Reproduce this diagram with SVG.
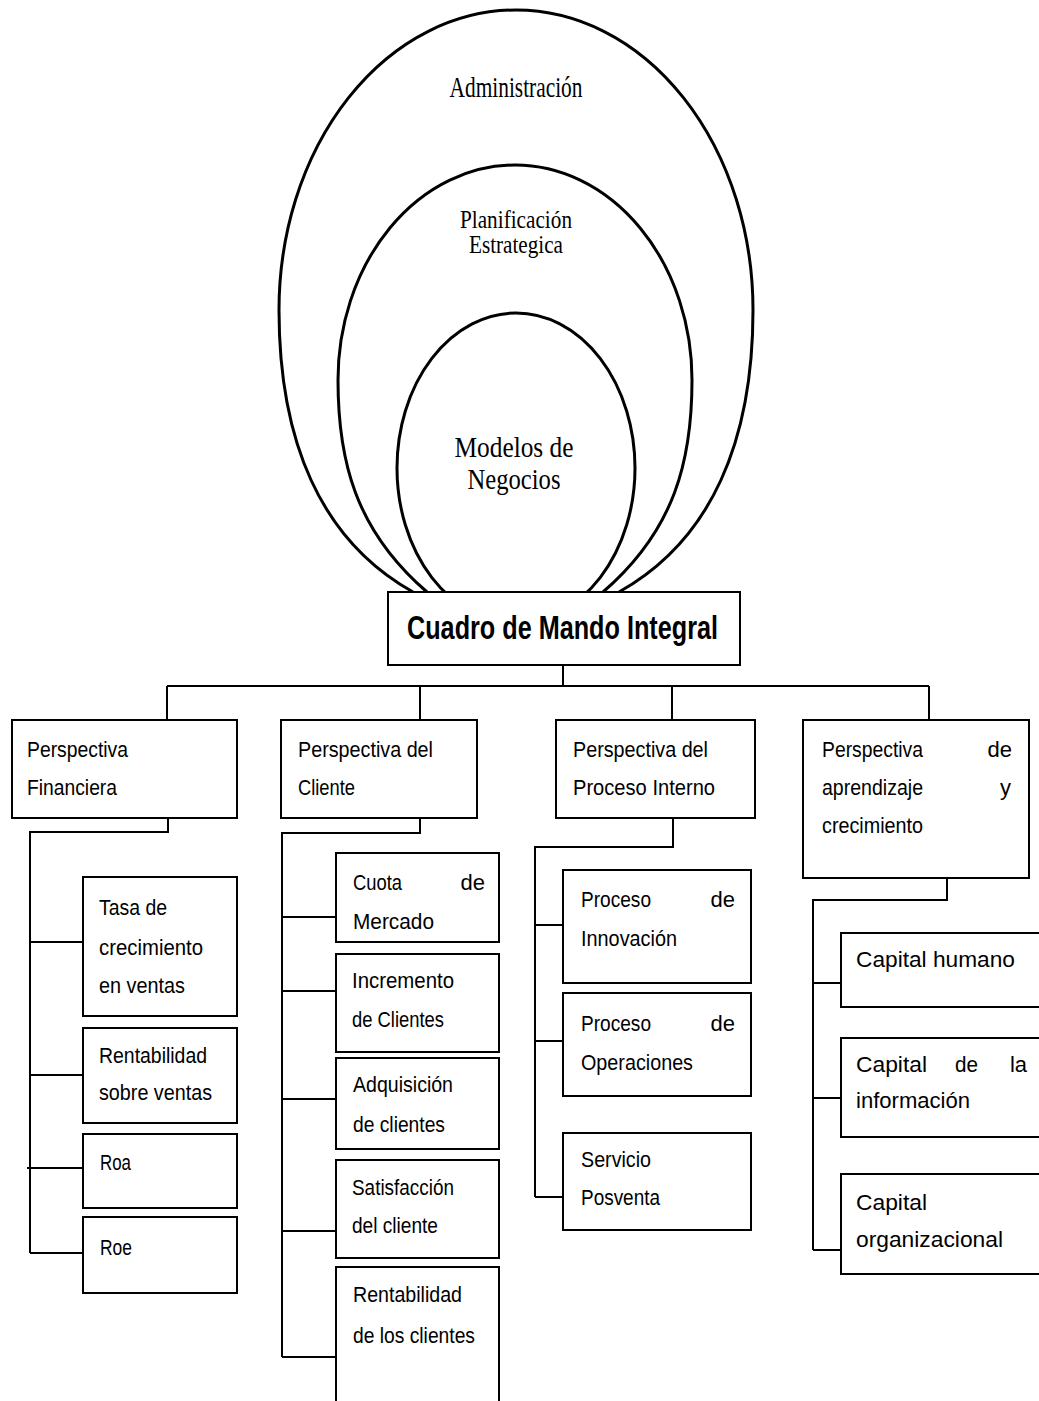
<svg xmlns="http://www.w3.org/2000/svg" width="1039" height="1401" viewBox="0 0 1039 1401">
<style>
.bg{fill:#fff}
.ring{fill:none;stroke:#000;stroke-width:3}
.box{fill:#fff;stroke:#000;stroke-width:2}
.conn{fill:none;stroke:#000;stroke-width:2}
.t{font-family:"Liberation Sans",Arial,sans-serif;font-size:22px;fill:#000}
.s{font-family:"Liberation Serif","Times New Roman",serif;fill:#000;text-anchor:middle}
.title{font-family:"Liberation Sans",Arial,sans-serif;font-size:33px;font-weight:bold;fill:#000}
</style>
<rect class="bg" x="0" y="0" width="1039" height="1401"/>

<g id="administracion">
<path class="ring" d="M 413 592 C 320 540 279 440 279 310 A 237 300 0 0 1 753 310 C 753 440 712 540 619 592"/>
<text class="s" x="516" y="97" font-size="29" textLength="133" lengthAdjust="spacingAndGlyphs">Administración</text>
</g>
<g id="planificacion">
<path class="ring" d="M 427 592 C 355 530 338 460 338 380 A 177 215 0 0 1 692 380 C 692 460 675 530 603 592"/>
<text class="s" x="516" y="228" font-size="25" textLength="112" lengthAdjust="spacingAndGlyphs">Planificación</text>
<text class="s" x="516" y="253" font-size="25" textLength="94" lengthAdjust="spacingAndGlyphs">Estrategica</text>
</g>
<g id="modelos">
<ellipse class="ring" cx="516" cy="468" rx="119" ry="155"/>
<text class="s" x="514" y="457" font-size="29" textLength="119" lengthAdjust="spacingAndGlyphs">Modelos de</text>
<text class="s" x="514" y="489" font-size="29" textLength="93" lengthAdjust="spacingAndGlyphs">Negocios</text>
</g>

<g id="connectors">
<path class="conn" d="M563 665 V686 M167 686 H929 M167 686 V720 M420 686 V720 M672 686 V720 M929 686 V720"/>
<path class="conn" d="M168 818 V832 H30 V1253 M30 942 H83 M30 1075 H83 M27 1168 H83 M30 1253 H83"/>
<path class="conn" d="M420 818 V833 H282 V1357 M282 917 H336 M282 991 H336 M282 1099 H336 M282 1231 H336 M282 1357 H336"/>
<path class="conn" d="M673 818 V847 H535 V1197 M535 925 H563 M535 1041 H563 M535 1197 H563"/>
<path class="conn" d="M947 878 V900 H813 V1250 M813 983 H841 M813 1098 H841 M813 1250 H841"/>
</g>

<g id="cmi">
<rect class="box" x="388" y="592" width="352" height="73"/>
<text class="title" x="407" y="639" textLength="311" lengthAdjust="spacingAndGlyphs">Cuadro de Mando Integral</text>
</g>

<g id="p-financiera">
<rect class="box" x="12" y="720" width="225" height="98"/>
<text class="t" x="27" y="757" textLength="101" lengthAdjust="spacingAndGlyphs">Perspectiva</text>
<text class="t" x="27" y="795" textLength="90" lengthAdjust="spacingAndGlyphs">Financiera</text>
</g>
<g id="p-cliente">
<rect class="box" x="281" y="720" width="196" height="98"/>
<text class="t" x="298" y="757" textLength="135" lengthAdjust="spacingAndGlyphs">Perspectiva del</text>
<text class="t" x="298" y="795" textLength="57" lengthAdjust="spacingAndGlyphs">Cliente</text>
</g>
<g id="p-proceso">
<rect class="box" x="556" y="720" width="199" height="98"/>
<text class="t" x="573" y="757" textLength="135" lengthAdjust="spacingAndGlyphs">Perspectiva del</text>
<text class="t" x="573" y="795" textLength="142" lengthAdjust="spacingAndGlyphs">Proceso Interno</text>
</g>
<g id="p-aprendizaje">
<rect class="box" x="803" y="720" width="226" height="158"/>
<text class="t" x="822" y="757" textLength="101" lengthAdjust="spacingAndGlyphs">Perspectiva</text>
<text class="t" x="1012" y="757" text-anchor="end">de</text>
<text class="t" x="822" y="795" textLength="101" lengthAdjust="spacingAndGlyphs">aprendizaje</text>
<text class="t" x="1011" y="795" text-anchor="end">y</text>
<text class="t" x="822" y="833" textLength="101" lengthAdjust="spacingAndGlyphs">crecimiento</text>
</g>

<g id="tasa">
<rect class="box" x="83" y="877" width="154" height="139"/>
<text class="t" x="99" y="915" textLength="68" lengthAdjust="spacingAndGlyphs">Tasa de</text>
<text class="t" x="99" y="955" textLength="104" lengthAdjust="spacingAndGlyphs">crecimiento</text>
<text class="t" x="99" y="993" textLength="86" lengthAdjust="spacingAndGlyphs">en ventas</text>
</g>
<g id="rent-ventas">
<rect class="box" x="83" y="1028" width="154" height="95"/>
<text class="t" x="99" y="1063" textLength="108" lengthAdjust="spacingAndGlyphs">Rentabilidad</text>
<text class="t" x="99" y="1100" textLength="113" lengthAdjust="spacingAndGlyphs">sobre ventas</text>
</g>
<g id="roa">
<rect class="box" x="83" y="1134" width="154" height="74"/>
<text class="t" x="100" y="1170" textLength="31" lengthAdjust="spacingAndGlyphs">Roa</text>
</g>
<g id="roe">
<rect class="box" x="83" y="1217" width="154" height="76"/>
<text class="t" x="100" y="1255" textLength="32" lengthAdjust="spacingAndGlyphs">Roe</text>
</g>

<g id="cuota">
<rect class="box" x="336" y="853" width="163" height="89"/>
<text class="t" x="353" y="890" textLength="49" lengthAdjust="spacingAndGlyphs">Cuota</text>
<text class="t" x="485" y="890" text-anchor="end">de</text>
<text class="t" x="353" y="929" textLength="81" lengthAdjust="spacingAndGlyphs">Mercado</text>
</g>
<g id="incremento">
<rect class="box" x="336" y="954" width="163" height="98"/>
<text class="t" x="352" y="988" textLength="102" lengthAdjust="spacingAndGlyphs">Incremento</text>
<text class="t" x="352" y="1027" textLength="92" lengthAdjust="spacingAndGlyphs">de Clientes</text>
</g>
<g id="adquisicion">
<rect class="box" x="336" y="1058" width="163" height="91"/>
<text class="t" x="353" y="1092" textLength="100" lengthAdjust="spacingAndGlyphs">Adquisición</text>
<text class="t" x="353" y="1132" textLength="92" lengthAdjust="spacingAndGlyphs">de clientes</text>
</g>
<g id="satisfaccion">
<rect class="box" x="336" y="1160" width="163" height="98"/>
<text class="t" x="352" y="1195" textLength="102" lengthAdjust="spacingAndGlyphs">Satisfacción</text>
<text class="t" x="352" y="1233" textLength="86" lengthAdjust="spacingAndGlyphs">del cliente</text>
</g>
<g id="rent-clientes">
<rect class="box" x="336" y="1267" width="163" height="150"/>
<text class="t" x="353" y="1302" textLength="109" lengthAdjust="spacingAndGlyphs">Rentabilidad</text>
<text class="t" x="353" y="1343" textLength="122" lengthAdjust="spacingAndGlyphs">de los clientes</text>
</g>

<g id="innovacion">
<rect class="box" x="563" y="870" width="188" height="113"/>
<text class="t" x="581" y="907" textLength="70" lengthAdjust="spacingAndGlyphs">Proceso</text>
<text class="t" x="735" y="907" text-anchor="end">de</text>
<text class="t" x="581" y="946" textLength="96" lengthAdjust="spacingAndGlyphs">Innovación</text>
</g>
<g id="operaciones">
<rect class="box" x="563" y="993" width="188" height="103"/>
<text class="t" x="581" y="1031" textLength="70" lengthAdjust="spacingAndGlyphs">Proceso</text>
<text class="t" x="735" y="1031" text-anchor="end">de</text>
<text class="t" x="581" y="1070" textLength="112" lengthAdjust="spacingAndGlyphs">Operaciones</text>
</g>
<g id="posventa">
<rect class="box" x="563" y="1133" width="188" height="97"/>
<text class="t" x="581" y="1167" textLength="70" lengthAdjust="spacingAndGlyphs">Servicio</text>
<text class="t" x="581" y="1205" textLength="79" lengthAdjust="spacingAndGlyphs">Posventa</text>
</g>

<g id="capital-humano">
<rect class="box" x="841" y="933" width="210" height="74"/>
<text class="t" x="856" y="967" textLength="159" lengthAdjust="spacingAndGlyphs">Capital humano</text>
</g>
<g id="capital-informacion">
<rect class="box" x="841" y="1038" width="210" height="99"/>
<text class="t" x="856" y="1072" textLength="71" lengthAdjust="spacingAndGlyphs">Capital</text>
<text class="t" x="955" y="1072" textLength="23" lengthAdjust="spacingAndGlyphs">de</text>
<text class="t" x="1027" y="1072" text-anchor="end">la</text>
<text class="t" x="856" y="1108" textLength="114" lengthAdjust="spacingAndGlyphs">información</text>
</g>
<g id="capital-organizacional">
<rect class="box" x="841" y="1174" width="210" height="100"/>
<text class="t" x="856" y="1210" textLength="71" lengthAdjust="spacingAndGlyphs">Capital</text>
<text class="t" x="856" y="1247" textLength="147" lengthAdjust="spacingAndGlyphs">organizacional</text>
</g>
</svg>
